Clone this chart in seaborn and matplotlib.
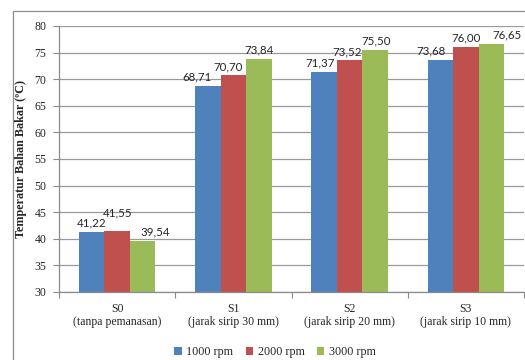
import matplotlib
matplotlib.use("Agg")
import matplotlib.pyplot as plt
from matplotlib.patches import Rectangle
import seaborn as sns
import pandas as pd

# Fuel temperature per fin configuration and engine speed
categories = ["S0\n(tanpa pemanasan)", "S1\n(jarak sirip 30 mm)",
              "S2\n(jarak sirip 20 mm)", "S3\n(jarak sirip 10 mm)"]
series = ["1000 rpm", "2000 rpm", "3000 rpm"]
rpm_1000 = [41.22, 68.71, 71.37, 73.68]
rpm_2000 = [41.55, 70.70, 73.52, 76.00]
rpm_3000 = [39.54, 73.84, 75.50, 76.65]
y_ticks = [30, 35, 40, 45, 50, 55, 60, 65, 70, 75, 80]

colors = ["#4F81BD", "#C0504D", "#9BBB59"]

# Label nudges (points) so neighbouring value labels do not collide
label_dx = [[0, -8, -3, -6.5], [0.5, -3.5, -2, 0], [9, 0, 1, 11]]
label_dy = [[0, 0, 0, 0], [6, 0, 0, 0], [0, 0, 0, 0]]

df = pd.DataFrame({
    "Kategori": categories * 3,
    "Putaran": [series[0]] * 4 + [series[1]] * 4 + [series[2]] * 4,
    "Suhu": rpm_1000 + rpm_2000 + rpm_3000,
})

sns.set_style("white")
serif = "Liberation Serif"
plt.rcParams["font.family"] = [serif, "DejaVu Serif"]

fig = plt.figure(figsize=(5.25, 3.6), dpi=100)
ax = fig.add_axes([59 / 525, 1 - 292 / 360, 465 / 525, 266 / 360])

# Outer chart frame
fig.patches.append(Rectangle((13 / 525, -0.2), 1.2, 1.2 - 11 / 360,
                             transform=fig.transFigure, fill=False,
                             edgecolor="#8c8c8c", linewidth=0.9, zorder=0))

sns.barplot(data=df, x="Kategori", y="Suhu", hue="Putaran", palette=colors,
            width=0.66, saturation=1, ax=ax, zorder=3, legend=True,
            edgecolor="none", linewidth=0)

ax.set_ylim(30, 80)
ax.set_xlim(-0.5, 3.5)
ax.set_yticks(y_ticks)
ax.set_yticklabels([str(t) for t in y_ticks], fontsize=8.5, family=serif)
ax.grid(axis="y", color="#9a9a9a", linewidth=0.9, zorder=0)
ax.set_axisbelow(True)

for s in ["top", "right"]:
    ax.spines[s].set_visible(False)
for s in ["left", "bottom"]:
    ax.spines[s].set_color("#8a8a8a")
    ax.spines[s].set_linewidth(0.9)
    ax.spines[s].set_zorder(4)

ax.tick_params(axis="y", length=4, width=0.8, color="#8a8a8a", pad=5,
               left=True)
ax.set_xticks(range(4))
ax.set_xticklabels(categories, fontsize=8.5, family=serif, linespacing=1.15)
ax.tick_params(axis="x", which="major", length=0, pad=8)
ax.set_xticks([-0.5, 0.5, 1.5, 2.5, 3.5], minor=True)
ax.tick_params(axis="x", which="minor", length=4, width=0.8,
               color="#8a8a8a", bottom=True)

ax.set_xlabel("")
ax.set_ylabel("Temperatur Bahan Bakar (ºC)", fontsize=8.7, fontweight="bold",
              family=serif)
ax.yaxis.set_label_coords(-0.069, 0.5)

for k, (cont, vals) in enumerate(zip(ax.containers, [rpm_1000, rpm_2000, rpm_3000])):
    for i, (bar, v) in enumerate(zip(cont.patches, vals)):
        ax.annotate(f"{v:.2f}".replace(".", ","),
                    xy=(bar.get_x() + bar.get_width() / 2, v),
                    xytext=(label_dx[k][i], 2.5 + label_dy[k][i]),
                    textcoords="offset points", ha="center", va="bottom",
                    fontsize=8.3, family=["Lato", "DejaVu Sans"], zorder=5)

handles, labels = ax.get_legend_handles_labels()
ax.legend_.remove()
fig.legend(handles, labels, loc="center", bbox_to_anchor=(275 / 525, 1 - 352 / 360),
           ncol=3, frameon=False, handlelength=0.65, handleheight=0.65,
           handletextpad=0.35, columnspacing=1.0,
           prop={"family": serif, "size": 8.7})

fig.savefig("out.png", dpi=100)
